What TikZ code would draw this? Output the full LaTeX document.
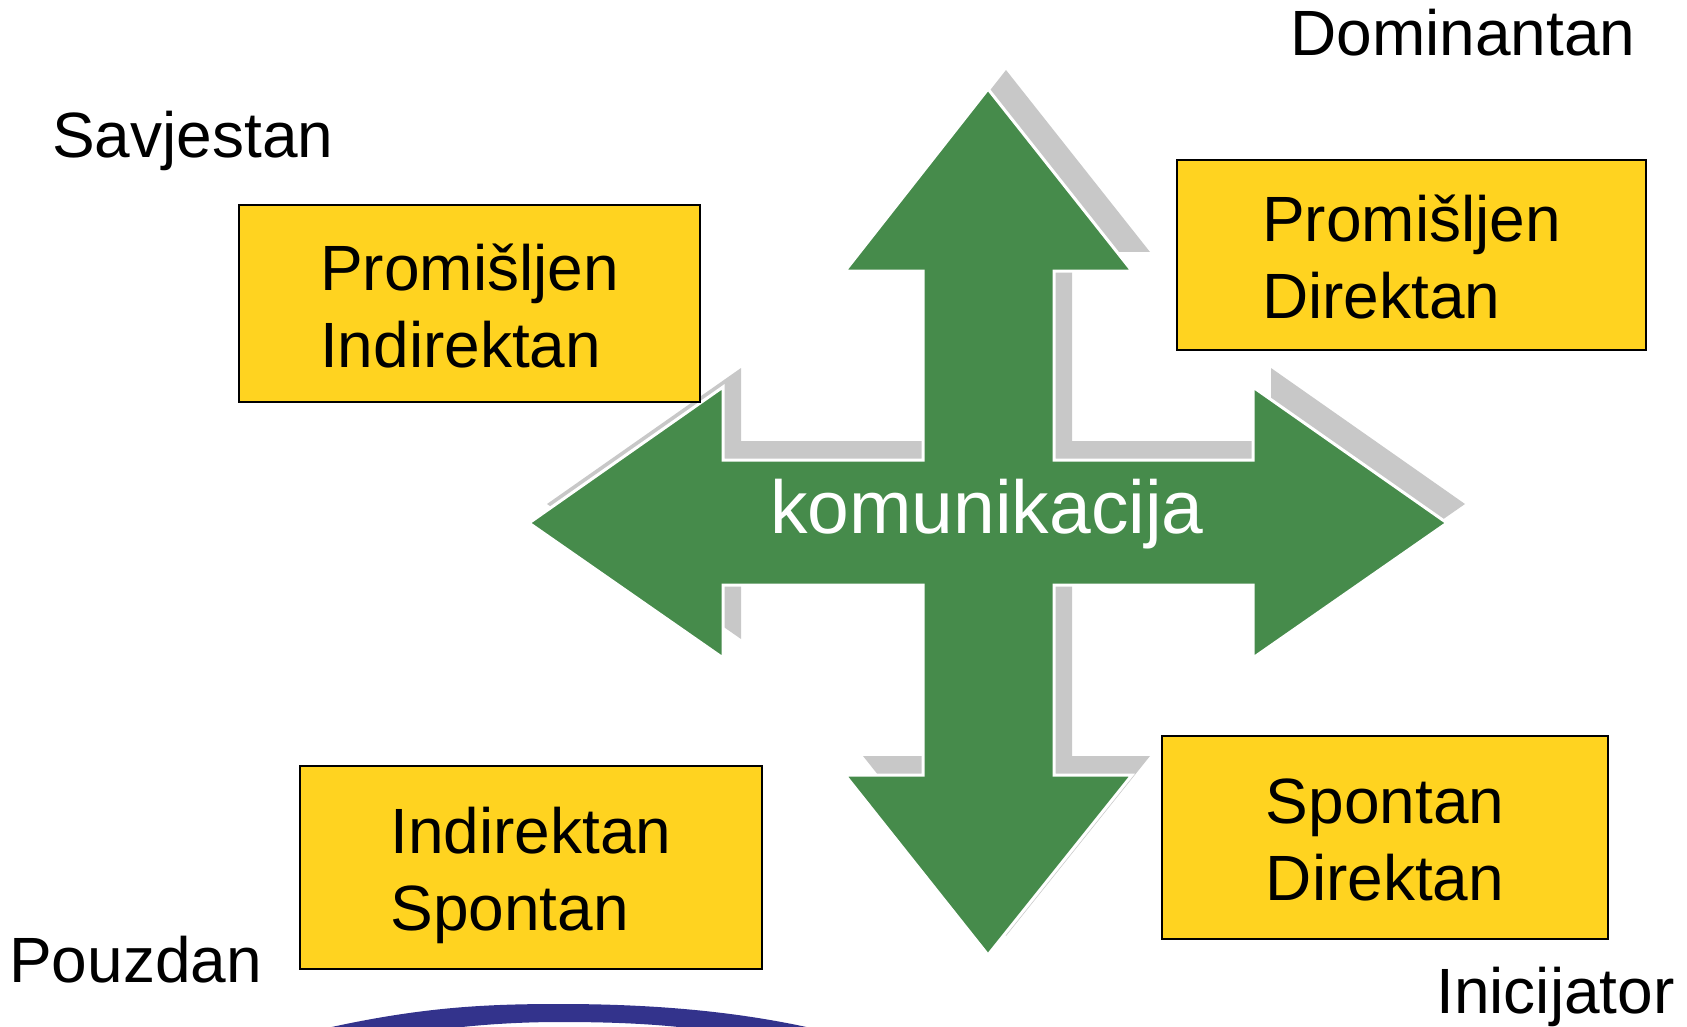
\documentclass[tikz,border=0pt]{standalone}
\usepackage{fontspec}
\setmainfont{Liberation Sans}
\usetikzlibrary{positioning}
\definecolor{boxyellow}{RGB}{255,211,32}
\definecolor{arrowgreen}{RGB}{70,139,75}
\definecolor{shadowgray}{RGB}{200,200,200}
\definecolor{bandblue}{RGB}{51,51,140}
\tikzset{
        trait/.style={draw=black, line width=2pt, fill=boxyellow, inner sep=0pt}, % yellow boxes
        traittext/.style={align=left, inner sep=0pt, font=\fontsize{64}{77}\selectfont}, % two lines in a box
        corner/.style={anchor=base west, inner sep=0pt, font=\fontsize{64}{74}\selectfont}, % labels at the corners
}

\begin{document}
\begin{tikzpicture}[x=1pt,y=-1pt]
\useasboundingbox (0,0) rectangle (1687,1027);

% cross of arrows, shadow first
\def\cross{(988,89) -- (1132,271) -- (1054,271) -- (1054,460) -- (1253,460) -- (1253,387) -- (1447,523) -- (1253,658) -- (1253,585) -- (1054,585) -- (1054,775) -- (1132,775) -- (988,955) -- (845,775) -- (923,775) -- (923,585) -- (723,585) -- (723,658) -- (529,523) -- (723,387) -- (723,460) -- (923,460) -- (923,271) -- (845,271) -- cycle}
\fill[shadowgray,shift={(18,-19)}] \cross;
\filldraw[fill=arrowgreen,draw=white,line width=3pt,line join=miter] \cross;

\node[anchor=base,inner sep=0pt,white,font=\fontsize{75}{80}\selectfont] (kom) at (987,533) {komunikacija};

\foreach \x/\y/\w/\h/\s/\t/\name in {469.5/303.5/461/197/3/{Promišljen\\Indirektan}/pi,
  1411.5/255/469/190/2/{Promišljen\\Direktan}/pd,
  531/867.5/462/203/8/{Indirektan\\Spontan}/is,
  1385/837.5/446/203/2/{Spontan\\Direktan}/sd}
{
  \node[trait,minimum width=\w,minimum height=\h] (\name) at (\x,\y) {};
  \node[traittext] (\name-txt) at (\x,\y+\s) {\t};
}

\node[corner] (dom) at (1290,56) {Dominantan};
\node[corner] (sav) at (52,158) {Savjestan};
\node[corner] (pou) at (9,982) {Pouzdan};
\node[corner] (ini) at (1436,1013) {Inicijator};

% blue band at the bottom
\clip (0,0) rectangle (1687,1027);
\fill[bandblue] (240,1050) .. controls (390,1008) and (470,1004) .. (560,1004)
  .. controls (670,1004) and (780,1014) .. (885,1048) -- (800,1048)
  .. controls (710,1026) and (640,1022) .. (560,1022)
  .. controls (480,1022) and (400,1032) .. (340,1050) -- cycle;
\end{tikzpicture}
\end{document}
